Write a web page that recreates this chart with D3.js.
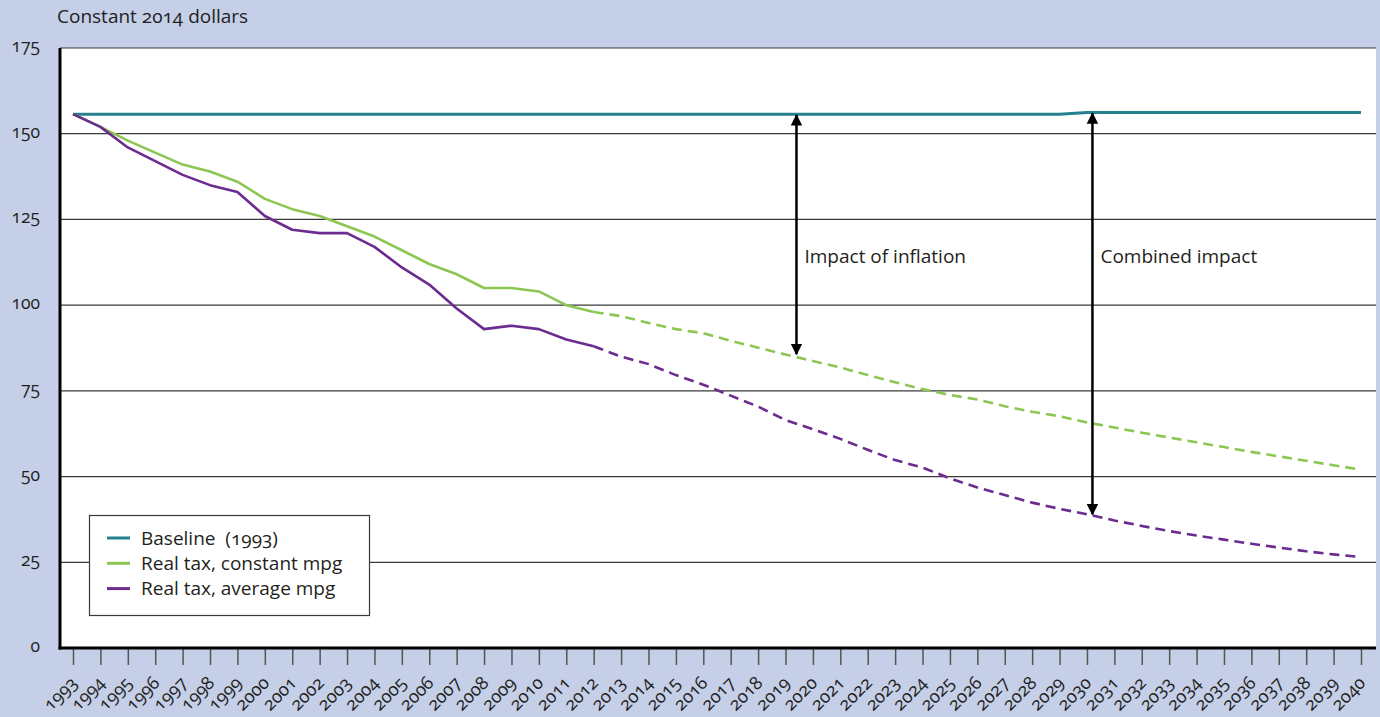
<!DOCTYPE html>
<html>
<head>
<meta charset="utf-8">
<script src="https://cdn.jsdelivr.net/npm/d3@7"></script>
<style>
  html, body { margin: 0; padding: 0; background: #c5cfe8; }
  svg { display: block; }
  text { font-family: "Open Sans", "Noto Sans", sans-serif; fill: #231f20; font-variant-numeric: oldstyle-nums; font-feature-settings: "onum" 1; }
</style>
</head>
<body>
<svg id="chart" width="1380" height="717"></svg>
<script>
const years = d3.range(1993, 2041);
const baseline = [155.7,155.7,155.7,155.7,155.7,155.7,155.7,155.7,155.7,155.7,
  155.7,155.7,155.7,155.7,155.7,155.7,155.7,155.7,155.7,155.7,
  155.7,155.7,155.7,155.7,155.7,155.7,155.7,155.7,155.7,155.7,
  155.7,155.7,155.7,155.7,155.7,155.7,155.7,156.2,156.2,156.2,
  156.2,156.2,156.2,156.2,156.2,156.2,156.2,156.2];
const constantMpg = [155.7,152,148,144.5,141,139,136,131,128,126,
  123,120,116,112,109,105,105,104,100,98,
  96.8,94.8,93,91.8,89.6,87.6,85.6,83.7,81.8,79.6,
  77.5,75.5,73.8,72.5,70.5,68.9,67.6,65.8,64.3,62.8,
  61.4,60,58.6,57.2,55.9,54.6,53.3,52];
const averageMpg = [155.7,152,146,142,138,135,133,126,122,121,
  121,117,111,106,99,93,94,93,90,88,
  85,82.8,79.6,76.8,73.6,70.4,66.5,63.8,61,57.8,
  54.8,52.6,49.5,46.8,44.6,42.4,40.6,39,37.2,35.6,
  34.1,32.8,31.6,30.4,29.3,28.2,27.3,26.5];
const lastActualYear = 2012;
const yTicks = [0, 25, 50, 75, 100, 125, 150, 175];
const seriesNames = ["Baseline  (1993)", "Real tax, constant mpg", "Real tax, average mpg"];
const seriesColors = ["#27808f", "#8cc653", "#6c2b8f"];
const annotations = [
  {label: "Impact of inflation", year: 2019.4, from: 155.7, to: 85.4},
  {label: "Combined impact", year: 2030.2, from: 156.2, to: 38.7}
];
const yAxisTitle = "Constant 2014 dollars";

const svg = d3.select("#chart");
const plotL = 60, plotR = 1376, plotT = 48, plotB = 648;
const x = d3.scaleLinear().domain([1993, 2040]).range([73, 1361]);
const y = d3.scaleLinear().domain([0, 175]).range([plotB, plotT]);

// plot background
svg.append("rect").attr("x", plotL).attr("y", plotT)
  .attr("width", plotR - plotL).attr("height", plotB - plotT).attr("fill", "#fff");

// gridlines
svg.append("g").selectAll("line").data(yTicks.filter(d => d > 0)).join("line")
  .attr("x1", plotL).attr("x2", plotR)
  .attr("y1", d => y(d)).attr("y2", d => y(d))
  .attr("stroke", "#3a3a3a").attr("stroke-width", 1.2);

// y labels
svg.append("g").selectAll("text").data(yTicks).join("text")
  .attr("x", 40).attr("y", d => y(d) + 4)
  .attr("text-anchor", "end").attr("font-size", 17.5)
  .text(d => d);

// title
svg.append("text").attr("x", 57).attr("y", 23).attr("font-size", 19).text(yAxisTitle);

// x axis via d3
const xAxis = d3.axisBottom(x).tickValues(years).tickFormat(d3.format("d")).tickSize(16).tickPadding(0);
const gx = svg.append("g").attr("transform", `translate(0,${plotB + 1})`).call(xAxis);
gx.select(".domain").remove();
gx.selectAll(".tick line").attr("stroke", "#555").attr("stroke-width", 1.5);
gx.selectAll(".tick text")
  .attr("font-size", 18)
  .attr("fill", "#231f20")
  .attr("text-anchor", "end")
  .attr("y", 0).attr("dy", 0)
  .attr("transform", "translate(5,35) rotate(-45)");

// axis lines
svg.append("line").attr("x1", plotL).attr("x2", plotL).attr("y1", plotT).attr("y2", plotB + 1.5)
  .attr("stroke", "#000").attr("stroke-width", 3);
svg.append("line").attr("x1", plotL - 1.5).attr("x2", plotR).attr("y1", plotB).attr("y2", plotB)
  .attr("stroke", "#000").attr("stroke-width", 3);

// lines
const line = d3.line().x(d => x(d.year)).y(d => y(d.value));
function toPts(vals) { return years.map((yr, i) => ({year: yr, value: vals[i]})); }

svg.append("path").datum(toPts(baseline)).attr("d", line)
  .attr("fill", "none").attr("stroke", seriesColors[0]).attr("stroke-width", 3);

[[constantMpg, seriesColors[1]], [averageMpg, seriesColors[2]]].forEach(([vals, col]) => {
  const pts = toPts(vals);
  svg.append("path").datum(pts.filter(p => p.year <= lastActualYear)).attr("d", line)
    .attr("fill", "none").attr("stroke", col).attr("stroke-width", 2.6).attr("stroke-linejoin", "round");
  svg.append("path").datum(pts.filter(p => p.year >= lastActualYear)).attr("d", line)
    .attr("fill", "none").attr("stroke", col).attr("stroke-width", 2.6)
    .attr("stroke-dasharray", "10,6");
});

// arrows
const defs = svg.append("defs");
defs.append("marker").attr("id", "ah").attr("viewBox", "0 0 10 10")
  .attr("refX", 9).attr("refY", 5).attr("markerWidth", 4.6).attr("markerHeight", 5)
  .attr("markerUnits", "strokeWidth")
  .attr("orient", "auto-start-reverse")
  .append("path").attr("d", "M0,0 L10,5 L0,10 Z").attr("fill", "#000");

annotations.forEach(a => {
  svg.append("line")
    .attr("x1", x(a.year)).attr("x2", x(a.year))
    .attr("y1", y(a.from) + 1).attr("y2", y(a.to) - 1)
    .attr("stroke", "#000").attr("stroke-width", 2.5)
    .attr("marker-start", "url(#ah)").attr("marker-end", "url(#ah)");
  svg.append("text").attr("x", x(a.year) + 8).attr("y", 263)
    .attr("font-size", 19).text(a.label);
});

// legend
const lg = svg.append("g");
lg.append("rect").attr("x", 89.5).attr("y", 515.5).attr("width", 280).attr("height", 100)
  .attr("fill", "#fff").attr("stroke", "#3a3a3a").attr("stroke-width", 1.2);
seriesNames.forEach((n, i) => {
  const yy = 538 + i * 25.3;
  lg.append("line").attr("x1", 107).attr("x2", 130).attr("y1", yy).attr("y2", yy)
    .attr("stroke", seriesColors[i]).attr("stroke-width", 3);
  lg.append("text").attr("x", 141).attr("y", yy + 6.5).attr("font-size", 19)
    .attr("xml:space", "preserve").style("white-space", "pre").text(n);
});
</script>
</body>
</html>
